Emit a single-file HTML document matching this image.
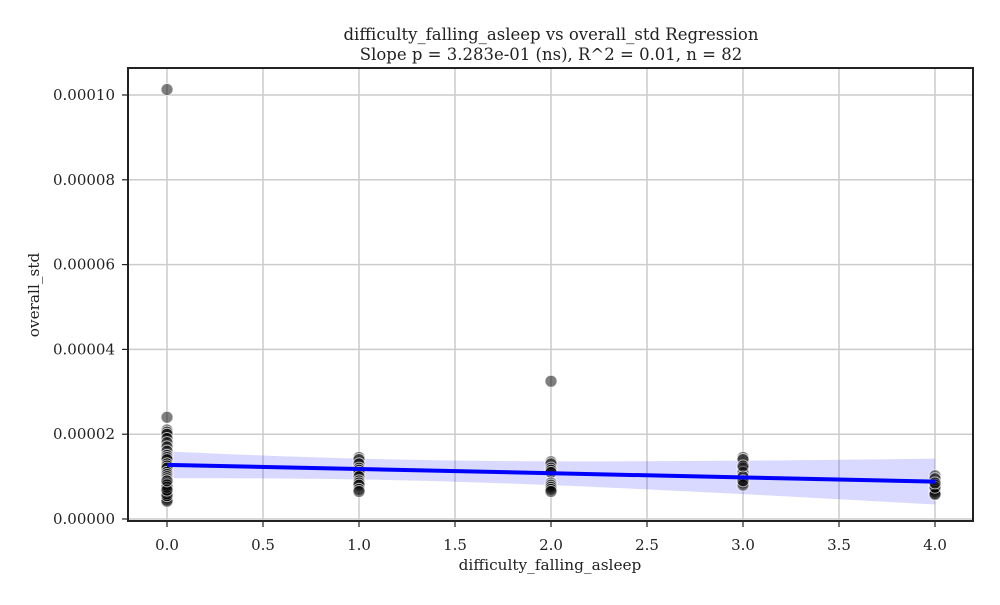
<!DOCTYPE html>
<html><head><meta charset="utf-8"><style>
body{margin:0;background:#fff;}
svg text{font-family:"DejaVu Serif","Liberation Serif",serif;fill:#222;}
</style></head><body>
<svg id="chart" width="1000" height="600" xmlns="http://www.w3.org/2000/svg"></svg>
<script>
const xCats=[0,1,2,3,4];
const valsX0=[101.3,24,21,20.5,20,19,18,17,16,15,14.5,14,13,12.5,12,11,10.5,10,9.5,9,8.5,8.2,8,7.5,7,6.5,6.2,6,5.8,5.5,5,4.5,4.2,7,6.5,6,5.5,8,7.5,6.8,9];
const valsX1=[14.5,14,13,12,11.5,11,10,9,8.5,8,7,6.5];
const valsX2=[32.5,13.5,13,12,11.5,11,8.5,8,7.5,7,6.5];
const valsX3=[14.5,14,12,11,10,8.5,8,12.5,9];
const valsX4=[10.2,9.5,8,7,6.5,6,5.8,7.5,8.5];
const xTicks=[0,0.5,1,1.5,2,2.5,3,3.5,4];
const yTicks=[0,20,40,60,80,100];
const yTickLabels=["0.00000","0.00002","0.00004","0.00006","0.00008","0.00010"];
const L=128,R=973,T=68,B=521;
const sx=v=>167+v*192, sy=v=>519-v*4.24;
const svg=document.getElementById('chart');
const NS='http://www.w3.org/2000/svg';
function mk(tag,attrs,parent){const e=document.createElementNS(NS,tag);for(const k in attrs)e.setAttribute(k,attrs[k]);(parent||svg).appendChild(e);return e;}
xTicks.forEach(t=>{const g=mk('line',{x1:sx(t),x2:sx(t),y1:T,y2:B,stroke:'#cccccc','stroke-width':1.5});

mk('line',{x1:sx(t),x2:sx(t),y1:B,y2:B+6,stroke:'#222','stroke-width':1.2});
const lb=mk('text',{x:sx(t),y:B+29,'text-anchor':'middle','font-size':15});lb.textContent=t.toFixed(1);
});
yTicks.forEach((t,i)=>{const g=mk('line',{x1:L,x2:R,y1:sy(t),y2:sy(t),stroke:'#cccccc','stroke-width':1.5});

mk('line',{x1:L-6,x2:L,y1:sy(t),y2:sy(t),stroke:'#222','stroke-width':1.2});
const lb=mk('text',{x:L-13,y:sy(t)+5,'text-anchor':'end','font-size':15});lb.textContent=yTickLabels[i];
});
const groups=[valsX0,valsX1,valsX2,valsX3,valsX4];
const xs=[],ys=[];groups.forEach((g,i)=>g.forEach(v=>{xs.push(xCats[i]);ys.push(v);}));
const n=xs.length,mx=xs.reduce((a,b)=>a+b)/n,my=ys.reduce((a,b)=>a+b)/n;
let sxx=0,sxy=0;for(let i=0;i<n;i++){sxx+=(xs[i]-mx)**2;sxy+=(xs[i]-mx)*(ys[i]-my);}
const b1=sxy/sxx,b0=my-b1*mx;let sse=0;for(let i=0;i<n;i++)sse+=(ys[i]-b0-b1*xs[i])**2;
const s=Math.sqrt(sse/(n-2));
let up=[],lo=[];for(let k=0;k<=40;k++){const x=k/10;const se=s*Math.sqrt(1/n+(x-mx)**2/sxx);const y=b0+b1*x;up.push([sx(x),sy(y+1.99*se)]);lo.unshift([sx(x),sy(y-1.99*se)]);}
const band=mk('polygon',{points:up.concat(lo).map(p=>p.join(',')).join(' '),fill:'rgba(0,0,255,0.15)'});

groups.forEach((g,i)=>g.forEach(v=>{const c=mk('circle',{cx:sx(xCats[i]),cy:sy(v),r:6,fill:'rgba(0,0,0,0.5)',stroke:'rgba(255,255,255,0.7)','stroke-width':1});
}));
const ln=mk('line',{x1:sx(0),y1:sy(b0),x2:sx(4),y2:sy(b0+4*b1),stroke:'#0000ff','stroke-width':4});

const fr=mk('rect',{x:L,y:T,width:R-L,height:B-T,fill:'none',stroke:'#222','stroke-width':2});

const t1=mk('text',{x:551,y:40,'text-anchor':'middle','font-size':16.5});t1.textContent='difficulty_falling_asleep vs overall_std Regression';

const t2=mk('text',{x:551,y:60,'text-anchor':'middle','font-size':16.5});t2.textContent='Slope p = 3.283e-01 (ns), R^2 = 0.01, n = 82';

const xl=mk('text',{x:550,y:570,'text-anchor':'middle','font-size':15.3});xl.textContent='difficulty_falling_asleep';

const yl=mk('text',{x:0,y:0,'text-anchor':'middle','font-size':15.3,transform:'translate(39,295) rotate(-90)'});yl.textContent='overall_std';

</script>
</body></html>
